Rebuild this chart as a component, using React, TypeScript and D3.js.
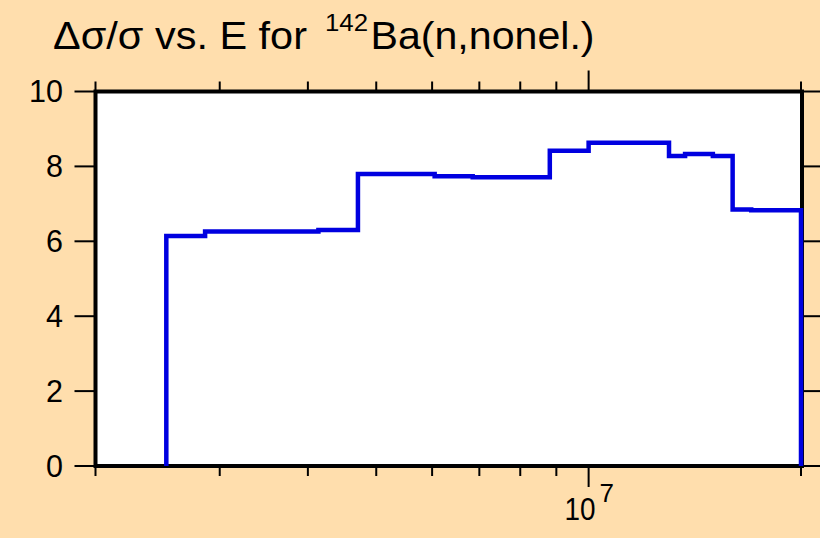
import React from 'react';
import * as d3 from 'd3';

// Energy bin edges (eV) and relative uncertainty (%) per bin
const binEdges = [2.52e6, 2.86e6, 3.24e6, 3.66e6, 4.14e6, 4.71e6, 6.05e6, 6.85e6, 7.74e6, 8.81e6, 1.0e7, 1.1e7, 1.3e7, 1.37e7, 1.5e7, 1.6e7, 1.7e7, 2.0e7];
const relErr = [6.14, 6.26, 6.26, 6.26, 6.30, 7.80, 7.74, 7.71, 7.71, 8.42, 8.63, 8.63, 8.28, 8.33, 8.28, 6.85, 6.83];
const yTicks = [0, 2, 4, 6, 8, 10];
const xMinorTicks = [2e6, 3e6, 4e6, 5e6, 6e6, 7e6, 8e6, 9e6, 2e7];
const xMajorTicks = [1e7];
const xDomain = [2e6, 2e7];
const yDomain = [0, 10];
const titleMain = 'Δσ/σ vs. E for';
const titleMass = '142';
const titleReaction = 'Ba(n,nonel.)';

const W = 820;
const H = 538;
const L = 95.5, R = 801, T = 91.5, B = 466;

export default function App() {
  const x = d3.scaleLog().domain(xDomain).range([L, R]);
  const y = d3.scaleLinear().domain(yDomain).range([B, T]);

  const pts: [number, number][] = [[binEdges[0], 0]];
  relErr.forEach((v, i) => {
    pts.push([binEdges[i], v]);
    pts.push([binEdges[i + 1], v]);
  });
  pts.push([binEdges[binEdges.length - 1], 0]);
  const line = d3.line<[number, number]>().x(d => x(d[0])).y(d => y(d[1]));

  const font = "'Liberation Sans', Arial, sans-serif";

  return (
    <svg width={W} height={H} style={{ position: 'absolute', left: 0, top: 0, display: 'block' }}>
      <rect x={0} y={0} width={W} height={H} fill="#FFDEAD" />
      <rect x={L} y={T} width={R - L} height={B - T} fill="#ffffff" />
      {/* title */}
      <g fontFamily={font} fill="#000">
        <text x={53} y={48.5} fontSize={38} textLength={254} lengthAdjust="spacingAndGlyphs">{titleMain}</text>
        <text x={325} y={30.5} fontSize={23} textLength={43} lengthAdjust="spacingAndGlyphs">{titleMass}</text>
        <text x={370.5} y={48.5} fontSize={38} textLength={224} lengthAdjust="spacingAndGlyphs">{titleReaction}</text>
      </g>
      {/* frame */}
      <rect x={L} y={T} width={R - L + 1} height={B - T} fill="none" stroke="#000" strokeWidth={4} />
      {/* y ticks left and right */}
      {yTicks.map(t => (
        <g key={'y' + t}>
          <line x1={L - 21} x2={L} y1={y(t)} y2={y(t)} stroke="#000" strokeWidth={2} />
          <line x1={R + 1} x2={R + 21} y1={y(t)} y2={y(t)} stroke="#000" strokeWidth={2} />
          <text x={63} y={y(t)} dy="0.36em" textAnchor="end" fontFamily={font} fontSize={30.5} fill="#000">{t}</text>
        </g>
      ))}
      {/* x ticks */}
      {xMinorTicks.map(t => (
        <g key={'xm' + t}>
          <line x1={x(t)} x2={x(t)} y1={B} y2={B + 10} stroke="#000" strokeWidth={2} />
          <line x1={x(t)} x2={x(t)} y1={T} y2={T - 10} stroke="#000" strokeWidth={2} />
        </g>
      ))}
      {xMajorTicks.map(t => (
        <g key={'xM' + t}>
          <line x1={x(t)} x2={x(t)} y1={B} y2={B + 21} stroke="#000" strokeWidth={2} />
          <line x1={x(t)} x2={x(t)} y1={T} y2={T - 21} stroke="#000" strokeWidth={2} />
          <text x={x(t) - 24} y={520} fontFamily={font} fontSize={32} fill="#000" textLength={31} lengthAdjust="spacingAndGlyphs">10</text>
          <text x={x(t) + 11} y={502} fontFamily={font} fontSize={26} fill="#000">{Math.round(Math.log10(t))}</text>
        </g>
      ))}
      {/* step line */}
      <path d={line(pts) || ''} fill="none" stroke="#0000e0" strokeWidth={4.5} strokeLinejoin="miter" />
    </svg>
  );
}
